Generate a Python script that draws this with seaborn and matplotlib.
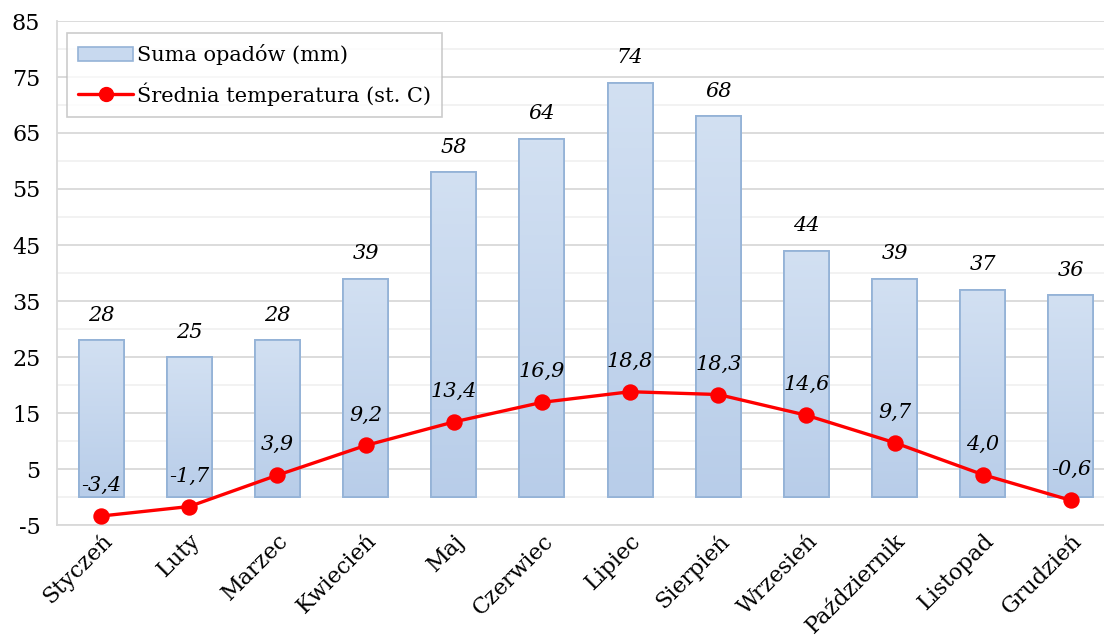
import matplotlib.pyplot as plt
import matplotlib.colors as mcolors
import numpy as np
import pandas as pd
import seaborn as sns
from matplotlib.lines import Line2D
from matplotlib.patches import Rectangle

months = ['Styczeń', 'Luty', 'Marzec', 'Kwiecień', 'Maj', 'Czerwiec', 'Lipiec',
          'Sierpień', 'Wrzesień', 'Październik', 'Listopad', 'Grudzień']
rain = [28, 25, 28, 39, 58, 64, 74, 68, 44, 39, 37, 36]
temp = [-3.4, -1.7, 3.9, 9.2, 13.4, 16.9, 18.8, 18.3, 14.6, 9.7, 4.0, -0.6]

rain_label = 'Suma opadów (mm)'
temp_label = 'Średnia temperatura (st. C)'

sns.set_style('white')
plt.rcParams['font.family'] = ['DejaVu Serif']
plt.rcParams['axes.unicode_minus'] = False
plt.rcParams['text.color'] = 'black'

df = pd.DataFrame({'month': months, 'rain': rain, 'temp': temp})

fig = plt.figure(figsize=(11.04, 6.41), dpi=100)
# plot area runs slightly past the right edge, like the original
ax = fig.add_axes([57 / 1104, (641 - 525) / 641, 1058 / 1104, 504 / 641])

edge = '#95b3d7'
sns.barplot(data=df, x='month', y='rain', ax=ax, width=0.51,
            color='#c5d7ee', edgecolor=edge, linewidth=1.3, zorder=2)

# gradient fill inside each bar (light top, darker bottom)
grad_cmap = mcolors.LinearSegmentedColormap.from_list('g', ['#b8cde9', '#d2e0f2'])
for bar in ax.patches:
    x0, y0 = bar.get_x(), bar.get_y()
    w, h = bar.get_width(), bar.get_height()
    img = ax.imshow(np.linspace(0, 1, 100).reshape(-1, 1), cmap=grad_cmap,
                    extent=[x0, x0 + w, y0, y0 + h], origin='lower',
                    aspect='auto', zorder=2.1)
    img.set_clip_path(bar)
    ax.add_patch(Rectangle((x0, y0), w, h, fill=False, edgecolor=edge,
                           linewidth=1.3, zorder=2.2))

sns.pointplot(data=df, x='month', y='temp', ax=ax, color='#ff0000',
              markers='o', markersize=10, linewidth=2.4, zorder=4)

for i, v in enumerate(rain):
    ax.annotate(f'{v}', (i, v), xytext=(0, 18), textcoords='offset points',
                ha='center', va='center', fontsize=15, style='italic',
                color='black', zorder=5)
for i, v in enumerate(temp):
    ax.annotate(f'{v:.1f}'.replace('.', ','), (i, v), xytext=(0, 22),
                textcoords='offset points', ha='center', va='center',
                fontsize=15, style='italic', color='black', zorder=5)

ax.set_xlim(-0.5, 11.5)
ax.set_ylim(-5, 85)
ax.set_yticks(np.arange(-5, 86, 10))
ax.set_yticks(np.arange(0, 85, 10), minor=True)
ax.grid(axis='y', which='major', color='#d9d9d9', linewidth=1.3, zorder=0)
ax.grid(axis='y', which='minor', color='#f0f0f0', linewidth=1.2, zorder=0)
ax.set_axisbelow(True)
ax.set_xlabel('')
ax.set_ylabel('')
for side in ['top', 'right']:
    ax.spines[side].set_visible(False)
for side in ['left', 'bottom']:
    ax.spines[side].set_color('#d9d9d9')
    ax.spines[side].set_linewidth(1.3)
ax.tick_params(axis='both', which='both', length=0, labelsize=16, colors='black')
ax.tick_params(axis='y', pad=12)
ax.set_xticks(range(len(months)))
ax.set_xticklabels(months, rotation=45, ha='right', rotation_mode='anchor')

handles = [Rectangle((0, 0), 1, 1, facecolor='#c8d9ef', edgecolor=edge, linewidth=1.2),
           Line2D([], [], color='#ff0000', linewidth=2.4, marker='o', markersize=10)]
leg = ax.legend(handles, [rain_label, temp_label], loc='upper left',
                bbox_to_anchor=(10 / 1058, (525 - 33) / 504), borderaxespad=0,
                fontsize=15, frameon=True, fancybox=False, handlelength=2.6,
                handletextpad=0.2, borderpad=0.55, labelspacing=0.8,
                labelcolor='black')
leg.get_frame().set_edgecolor('#bfbfbf')
leg.get_frame().set_linewidth(1.2)

plt.savefig('out.png', dpi=100)
